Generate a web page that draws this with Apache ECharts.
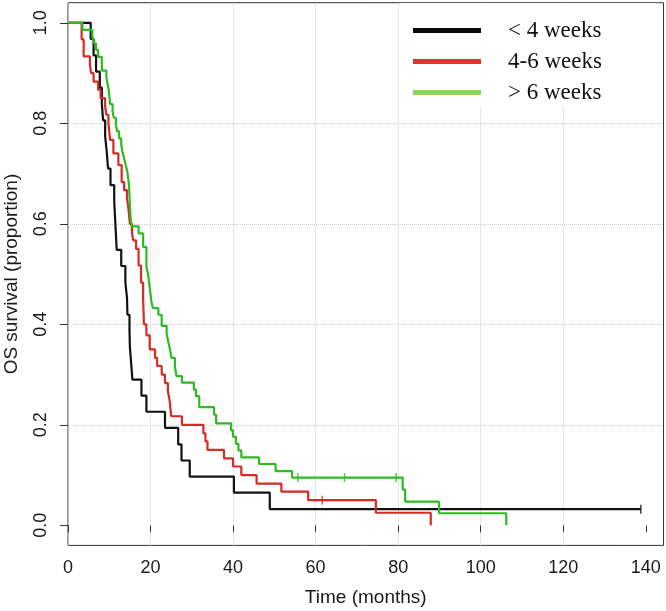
<!DOCTYPE html>
<html>
<head>
<meta charset="utf-8">
<script src="https://cdn.jsdelivr.net/npm/echarts@6/dist/echarts.min.js"></script>
<style>
html,body{margin:0;padding:0;background:#fff;}
#chart{width:666px;height:611px;}
</style>
</head>
<body>
<div id="chart"></div>
<script>
// ---- data ----
const seriesNames = ['< 4 weeks', '4-6 weeks', '> 6 weeks'];

const blackT = [0, 5.5, 6.2, 6.8, 7.7, 8.2, 8.5, 9.0, 9.4, 9.7, 10.3, 11.2, 11.4, 11.6, 11.8, 12.9, 13.9, 14.3, 14.4, 14.9, 15.0, 15.3, 15.6, 17.8, 19.0, 23.5, 26.7, 27.5, 29.5, 40.2, 48.9, 138.8];
const blackS = [1, 0.968, 0.935, 0.903, 0.871, 0.839, 0.806, 0.774, 0.742, 0.710, 0.677, 0.645, 0.613, 0.581, 0.548, 0.516, 0.484, 0.452, 0.419, 0.387, 0.355, 0.323, 0.290, 0.258, 0.226, 0.194, 0.161, 0.129, 0.097, 0.065, 0.032, 0.032];

const redT = [0, 3.3, 3.8, 5.3, 5.6, 6.2, 7.3, 7.9, 9.0, 9.3, 9.8, 10.2, 11.0, 12.2, 13.0, 13.6, 14.3, 14.6, 15.0, 15.5, 15.8, 16.5, 17.1, 17.7, 18.2, 18.4, 19.0, 19.8, 21.1, 21.6, 22.7, 23.5, 24.2, 24.6, 25.0, 27.6, 32.8, 33.3, 33.8, 37.8, 40.0, 42.0, 45.7, 51.7, 58.2, 74.6, 87.9];
const redS = [1, 0.967, 0.933, 0.917, 0.9, 0.883, 0.867, 0.85, 0.833, 0.817, 0.8, 0.767, 0.74, 0.717, 0.683, 0.667, 0.65, 0.633, 0.6, 0.583, 0.567, 0.55, 0.517, 0.483, 0.45, 0.40, 0.378, 0.35, 0.333, 0.317, 0.30, 0.283, 0.267, 0.25, 0.217, 0.2, 0.183, 0.167, 0.15, 0.133, 0.117, 0.1, 0.083, 0.067, 0.05, 0.025, 0];

const greenT = [0, 3.5, 5.9, 6.3, 6.8, 7.3, 8.2, 9.3, 9.6, 9.9, 10.2, 10.8, 11.1, 11.6, 11.9, 12.4, 12.9, 13.2, 13.6, 14.0, 14.4, 14.8, 15.0, 15.2, 15.4, 17.1, 18.2, 19.0, 19.4, 19.8, 20.2, 20.6, 21.9, 22.7, 23.9, 24.3, 24.7, 25.1, 25.9, 26.3, 27.6, 30.5, 31.0, 31.8, 35.4, 35.9, 39.5, 40.0, 40.7, 41.3, 42.0, 46.3, 50.3, 54.3, 81.1, 81.7, 89.9, 106.2];
const greenS = [1, 0.986, 0.973, 0.959, 0.946, 0.932, 0.905, 0.892, 0.878, 0.865, 0.838, 0.824, 0.811, 0.797, 0.784, 0.77, 0.757, 0.743, 0.73, 0.716, 0.703, 0.676, 0.635, 0.608, 0.595, 0.581, 0.554, 0.514, 0.5, 0.473, 0.446, 0.432, 0.419, 0.397, 0.382, 0.365, 0.351, 0.333, 0.316, 0.297, 0.284, 0.27, 0.257, 0.235, 0.22, 0.203, 0.189, 0.176, 0.162, 0.149, 0.135, 0.122, 0.108, 0.095, 0.071, 0.047, 0.024, 0];

// censored observations (time, survival level)
const blackCensT = [138.8];
const blackCensS = [0.032];
const redCensT = [61.6];
const redCensS = [0.05];
const greenCensT = [55.7, 67.0, 79.5];
const greenCensS = [0.095, 0.095, 0.095];

const xTicks = [0, 20, 40, 60, 80, 100, 120, 140];
const yTicks = [0, 0.2, 0.4, 0.6, 0.8, 1.0];

const xTitle = 'Time (months)';
const yTitle = 'OS survival (proportion)';

// ---- build ----
const zip = (a, b) => a.map((v, i) => [v, b[i]]);
const lineColors = ['#111111', '#d62a24', '#2dbb22'];
const legendColors = ['#0a0a0a', '#e2332c', '#8fd45c'];

function kmSeries(name, t, s, color) {
  return {
    name: name, type: 'line', step: 'end', data: zip(t, s),
    showSymbol: false, symbol: 'none',
    lineStyle: { color: color, width: 2.2 }, itemStyle: { color: color },
    z: 3
  };
}
function censSeries(name, t, s, color) {
  return {
    name: name, type: 'scatter', data: zip(t, s),
    symbol: 'rect', symbolSize: [1.5, 9],
    itemStyle: { color: color }, z: 4, silent: true
  };
}

const chart = echarts.init(document.getElementById('chart'), null, { renderer: 'canvas' });
chart.setOption({
  animation: false,
  backgroundColor: '#fff',
  grid: {
    left: 68, right: 2.5, top: 2.7, bottom: 65.6,
    containLabel: false, outerBoundsMode: 'none',
    show: true, borderColor: '#333', borderWidth: 1, backgroundColor: 'transparent'
  },
  legend: {
    orient: 'vertical', left: 400, top: 3,
    backgroundColor: '#fff',
    padding: [16, 55, 3, 13],
    icon: 'rect', itemWidth: 68, itemHeight: 5, itemGap: 8,
    textStyle: { fontFamily: 'Liberation Serif', fontSize: 23, color: '#111', lineHeight: 23, padding: [0, 0, 0, 22] },
    data: seriesNames.map((n, i) => ({ name: n, itemStyle: { color: legendColors[i] } })),
    selectedMode: false
  },
  xAxis: {
    type: 'value', min: 0, max: 144.3,
    name: xTitle, nameLocation: 'middle', nameGap: 43,
    nameTextStyle: { fontFamily: 'Liberation Sans', fontSize: 19, color: '#1a1a1a' },
    axisLine: { show: false },
    axisTick: { show: true, inside: false, length: 7, lineStyle: { color: '#333' }, customValues: xTicks },
    axisLabel: { margin: 14, fontFamily: 'Liberation Sans', fontSize: 18, color: '#1a1a1a', customValues: xTicks },
    splitLine: { show: true, showMinLine: true, showMaxLine: false, lineStyle: { color: '#cfcfcf', type: 'dotted', width: 1 } }
  },
  yAxis: {
    type: 'value', min: -0.04, max: 1.04,
    name: yTitle, nameLocation: 'middle', nameGap: 47, nameRotate: 90,
    nameTextStyle: { fontFamily: 'Liberation Sans', fontSize: 19, color: '#1a1a1a' },
    axisLine: { show: false },
    axisTick: { show: true, inside: false, length: 8, lineStyle: { color: '#333' }, customValues: yTicks },
    axisLabel: { margin: 18, rotate: 90, fontFamily: 'Liberation Sans', fontSize: 18, color: '#1a1a1a',
      customValues: yTicks, formatter: v => Number(v).toFixed(1) },
    splitLine: { show: true, showMinLine: false, showMaxLine: false, lineStyle: { color: '#cfcfcf', type: 'dotted', width: 1 } }
  },
  series: [
    kmSeries(seriesNames[0], blackT, blackS, lineColors[0]),
    kmSeries(seriesNames[1], redT, redS, lineColors[1]),
    kmSeries(seriesNames[2], greenT, greenS, lineColors[2]),
    censSeries('cens-black', blackCensT, blackCensS, lineColors[0]),
    censSeries('cens-red', redCensT, redCensS, lineColors[1]),
    censSeries('cens-green', greenCensT, greenCensS, lineColors[2])
  ]
});
</script>
</body>
</html>
